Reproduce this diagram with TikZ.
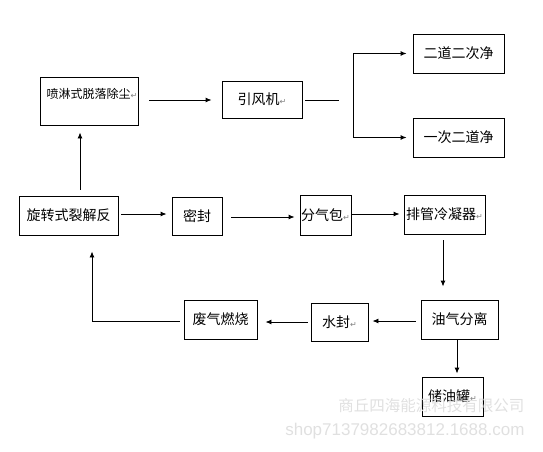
\documentclass[tikz,border=0pt]{standalone}
\usepackage{fontspec}
\setmainfont{Noto Sans CJK SC}
\newfontfamily\symfont{DejaVu Sans}
\newfontfamily\wmfont{Liberation Sans}
\usetikzlibrary{arrows.meta}
\newcommand{\ret}{{\symfont\fontsize{8}{8}\selectfont\color{gray}↵}}
\begin{document}
\begin{tikzpicture}[x=1pt,y=-1pt,
  box/.style={draw=black,line width=0.9pt,inner sep=0pt,font=\fontsize{14}{14}\selectfont},
  arr/.style={line width=0.9pt,-{Latex[length=6pt,width=5pt]}},
  ln/.style={line width=0.9pt}]
\useasboundingbox (0,0) rectangle (543,452);
% boxes
\node[box,minimum width=98,minimum height=48] (spray) at (89,101) {};
\node[font=\fontsize{12}{12}\selectfont,anchor=center] (spraytxt) at (92,94) {喷淋式脱落除尘\ret};
\node[box,minimum width=80,minimum height=37] (fan) at (262,99.5) {引风机\ret};
\node[box,minimum width=91,minimum height=39] (clean1) at (458.5,53.5) {二道二次净};
\node[box,minimum width=91,minimum height=39] (clean2) at (458.5,137.5) {一次二道净};
\node[box,minimum width=99,minimum height=39] (reactor) at (68.5,215.5) {旋转式裂解反};
\node[box,minimum width=50,minimum height=38] (seal) at (197,216) {密封};
\node[box,minimum width=51,minimum height=40] (gasbag) at (325.5,215) {分气包\ret};
\node[box,minimum width=81,minimum height=39] (cond) at (444.5,214.5) {排管冷凝器\ret};
\node[box,minimum width=73,minimum height=39] (burn) at (220.5,319.5) {废气燃烧};
\node[box,minimum width=57,minimum height=38] (water) at (339.5,322) {水封\ret};
\node[box,minimum width=77,minimum height=39] (sep) at (459.5,319.5) {油气分离};
\node[box,minimum width=61,minimum height=39] (tank) at (452.5,396.5) {储油罐\ret};
% connectors
\coordinate (fanend) at (339,100);
\coordinate (brtop) at (353,53.5);
\coordinate (brbot) at (353,137.5);
\draw[arr,shorten <=6pt,shorten >=7pt] ([xshift=11.5pt]reactor.north) -- ([xshift=-9pt]spray.south);
\draw[arr,shorten <=11pt,shorten >=10pt] (spray.east |- 0,100) -- (fan.west |- 0,100);
\draw[ln,shorten <=3pt] (fan.east |- fanend) -- (fanend);
\draw[ln] (brtop) -- (brbot);
\draw[arr,shorten >=6pt] (brtop) -- (clean1.west);
\draw[arr,shorten >=6pt] (brbot) -- (clean2.west);
\draw[arr,shorten <=3pt,shorten >=5pt] (reactor.east |- 0,214) -- (seal.west |- 0,214);
\draw[arr,shorten <=9pt,shorten >=5pt] (seal.east |- 0,217) -- (gasbag.west |- 0,217);
\draw[arr,shorten >=4pt] (gasbag.east |- 0,214) -- (cond.west |- 0,214);
\draw[arr,shorten <=6pt,shorten >=13pt] (cond.south -| 443,0) -- (sep.north -| 443,0);
\draw[arr,shorten <=5pt,shorten >=4pt] (sep.west |- 0,321) -- (water.east |- 0,321);
\draw[arr,shorten <=3pt,shorten >=8pt] (water.west |- 0,322) -- (burn.east |- 0,322);
\draw[arr,shorten <=4pt,shorten >=16pt] (burn.west |- 0,321) -| ([xshift=23.5pt]reactor.south);
\draw[arr,shorten >=3pt] (sep.south -| 457,0) -- (tank.north -| 457,0);
% watermark
\node[anchor=east,text=black!12,font=\fontsize{15.5}{15.5}\selectfont] (wm1) at (528,406) {商丘四海能源科技有限公司};
\node[anchor=east,text=black!12,font=\wmfont\fontsize{17}{17}\selectfont] (wm2) at (528,431) {shop7137982683812.1688.com};
\end{tikzpicture}
\end{document}
